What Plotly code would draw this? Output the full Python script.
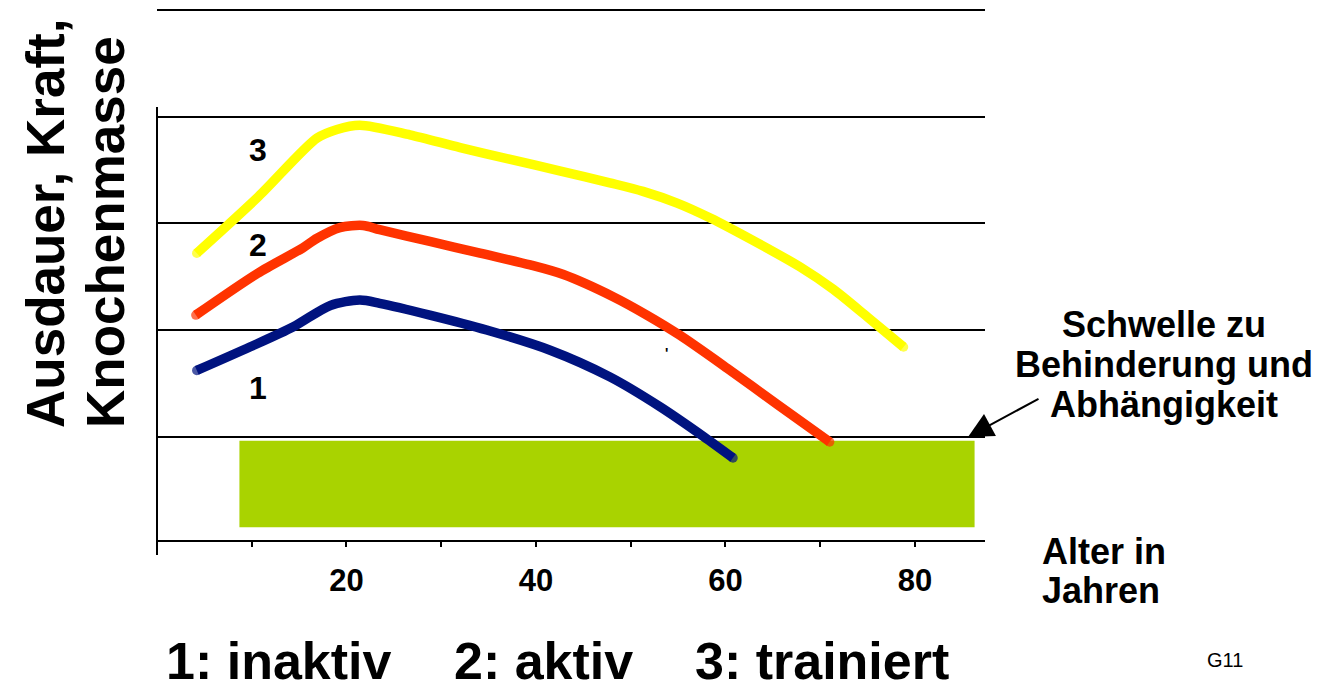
import plotly.graph_objects as go

# ---- data ----
age_inaktiv = [4.2, 9.8, 14.4, 18.3, 21.4, 23.5, 28.8, 34.8, 41.5, 47.8, 53.1, 57.7, 60.8]
val_inaktiv = [1.62, 1.84, 2.03, 2.23, 2.28, 2.25, 2.14, 2.00, 1.81, 1.56, 1.28, 1.00, 0.80]

age_aktiv = [4.1, 10.6, 15.4, 16.9, 19.3, 21.75, 23.5, 28.8, 34.1, 39.4, 42.9, 48.2, 51.7, 55.2, 60.2, 65.5, 71.0]
val_aktiv = [2.14, 2.53, 2.77, 2.86, 2.96, 2.98, 2.94, 2.83, 2.72, 2.61, 2.52, 2.31, 2.14, 1.95, 1.64, 1.30, 0.95]

age_trainiert = [4.2, 10.7, 16.9, 19.0, 21.4, 26.7, 32.0, 37.3, 42.6, 47.8, 51.3, 54.9, 58.4, 62.9, 67.9, 71.4, 75.0, 78.8]
val_trainiert = [2.72, 3.25, 3.80, 3.88, 3.92, 3.83, 3.71, 3.60, 3.49, 3.38, 3.30, 3.19, 3.05, 2.84, 2.59, 2.38, 2.12, 1.84]

zone_x = [8.7, 86.3]      # threshold zone (age span)
zone_y = [0.15, 0.96]     # threshold zone (level span)

tick_vals = [10, 20, 30, 40, 50, 60, 70, 80]
tick_text = ["", "20", "", "40", "", "60", "", "80"]
grid_vals = [1, 2, 3, 4, 5]

series = [
    ("1", age_inaktiv, val_inaktiv, "#00137F"),
    ("2", age_aktiv, val_aktiv, "#FF3300"),
    ("3", age_trainiert, val_trainiert, "#FFFF00"),
]
curve_labels = [("3", 10.7, 3.69), ("2", 10.7, 2.80), ("1", 10.7, 1.46)]

FONT = "Liberation Sans, Arial, sans-serif"
LW = 9.5

fig = go.Figure()

for name, xs, ys, col in series:
    sizes = [LW] + [0] * (len(xs) - 2) + [LW]
    fig.add_trace(go.Scatter(
        x=xs, y=ys, mode="lines+markers", name=name,
        line=dict(color=col, width=LW, shape="spline", smoothing=0.8),
        marker=dict(color=col, size=sizes, line=dict(width=0)),
        hoverinfo="skip", showlegend=False,
    ))

fig.add_shape(type="rect", xref="x", yref="y",
              x0=zone_x[0], x1=zone_x[1], y0=zone_y[0], y1=zone_y[1],
              fillcolor="#A9D300", line=dict(width=0), layer="below")

W0, WP, B0, HP = 157, 828, 540, 531
def px(x):
    return (x - W0) / WP
def py(y):
    return (B0 - y) / HP

# left axis line (starts below top gridline, extends below x axis)
fig.add_shape(type="line", xref="paper", yref="paper",
              x0=0, x1=0, y0=py(555), y1=py(107),
              line=dict(color="black", width=2))

for txt, xx, yy in curve_labels:
    fig.add_annotation(x=xx, y=yy, xref="x", yref="y", text="<b>%s</b>" % txt,
                       showarrow=False, xanchor="center", yanchor="middle",
                       font=dict(family=FONT, size=32, color="black"))

def note(txt, x, y, size, xanchor="center", angle=0):
    fig.add_annotation(x=px(x), y=py(y), xref="paper", yref="paper",
                       text=txt, showarrow=False, textangle=angle,
                       xanchor=xanchor, yanchor="middle",
                       font=dict(family=FONT, size=size, color="black"))

# y axis title
note("<b>Ausdauer, Kraft,</b>", 45, 224, 53, angle=-90)
note("<b>Knochenmasse</b>", 105, 232, 53, angle=-90)

# small stray mark in the original
note("<b>'</b>", 666, 353, 14)

# threshold text
note("<b>Schwelle zu</b>", 1164, 324, 36)
note("<b>Behinderung und</b>", 1164, 364, 36)
note("<b>Abhängigkeit</b>", 1164, 404, 36)

# arrow
fig.add_annotation(x=px(968), y=py(437), xref="paper", yref="paper",
                   ax=72, ay=-39, text="", showarrow=True,
                   arrowhead=2, arrowsize=2.5, arrowwidth=2, arrowcolor="black",
                   standoff=0)

# x axis title
note("<b>Alter in</b>", 1040, 551, 36, xanchor="left")
note("<b>Jahren</b>", 1040, 590, 36, xanchor="left")

# legend line at bottom
note("<b>1: inaktiv</b>", 278, 661, 52)
note("<b>2: aktiv</b>", 543, 661, 52)
note("<b>3: trainiert</b>", 822, 661, 52)

note("G11", 1225, 660, 20)

fig.update_layout(
    width=1314, height=674,
    margin=dict(l=149, r=337, t=1, b=142, pad=0),
    paper_bgcolor="white", plot_bgcolor="white",
    font=dict(family=FONT, color="black"),
    xaxis=dict(range=[0, 87.4], showgrid=False, zeroline=False,
               showline=True, linecolor="black", linewidth=2,
               tickmode="array", tickvals=tick_vals,
               ticktext=["<b>%s</b>" % t if t else "" for t in tick_text],
               ticks="outside", ticklen=5, tickwidth=1.5, tickcolor="black",
               tickfont=dict(family=FONT, size=31, color="black"),
               ticklabelstandoff=7, fixedrange=True),
    yaxis=dict(range=[0.03, 5.01], showgrid=True, gridcolor="black", gridwidth=2,
               tickmode="array", tickvals=grid_vals, showticklabels=False,
               zeroline=False, showline=False, ticks="", fixedrange=True),
)

fig.write_html("out.html")
